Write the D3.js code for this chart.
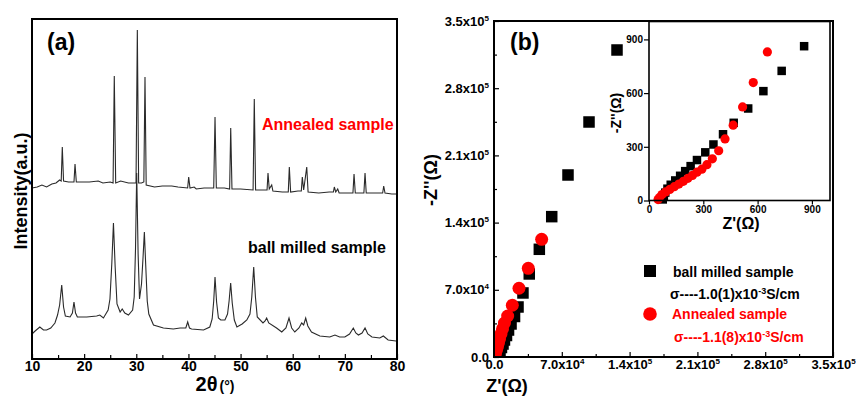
<!DOCTYPE html>
<html><head><meta charset="utf-8">
<script src="https://cdn.jsdelivr.net/npm/d3@7"></script>
<style>
html,body{margin:0;padding:0;background:#fff;}
svg{display:block;font-family:"Liberation Sans",Arial,sans-serif;font-weight:bold;}
</style></head>
<body>
<svg id="chart" width="856" height="400"></svg>
<script>
// ---------- DATA ----------
// (a) XRD patterns: [2theta (deg), intensity (a.u.)]
const xrdAnnealed = [
[10.0,171],[11.0,172],[11.9,174],[12.8,172],[13.8,175],[14.6,176],[15.3,179],[15.6,178],[15.81,212],[16.05,178],
[17.0,177],[18.05,177],[18.25,195],[18.5,177],[19.5,177],[21.0,177],[22.7,178],[23.6,176],[25.0,177],[25.55,176],
[25.78,283],[26.05,176],[27.0,178],[28.5,176],[29.95,176],[30.2,329],[30.45,176],[31.0,176],[31.45,177],[31.67,282],
[31.9,174],[33.5,172],[35.0,173],[36.8,173],[38.0,172],[39.85,171],[40.05,182],[40.3,171],[41.1,172],[41.5,170],
[43.0,171],[44.85,171],[45.1,242],[45.35,171],[46.9,171],[47.9,170],[48.11,231],[48.35,170],[50.0,170],[52.4,169],
[52.63,260],[52.88,169],[54.0,169],[55.08,169],[55.26,186],[55.5,170],[55.97,174],[56.2,168],[58.0,167],[59.15,167],
[59.35,192],[59.6,167],[61.0,168],[61.65,168],[61.84,182],[62.1,169],[62.69,192],[62.95,167],[65.0,166],[67.0,167],
[67.8,167],[67.98,172],[68.25,167],[68.63,170],[68.9,166],[70.5,166],[71.55,166],[71.76,185],[72.0,166],[73.0,166],
[73.65,166],[73.87,186],[74.1,166],[76.0,166],[77.25,166],[77.45,173],[77.7,166],[79.0,165],[80.0,165]
];
const xrdBallMilled = [
[10.0,25],[10.6,28],[11.5,32],[12.2,29],[12.8,29],[13.6,31],[14.4,36],[14.9,44],[15.3,54],[15.7,74],
[16.05,52],[16.4,43],[17.3,42],[17.75,46],[18.05,57],[18.35,46],[18.7,42],[20.5,42],[22.4,43],[23.0,44],
[23.7,41],[24.6,49],[24.95,60],[25.3,95],[25.62,136],[25.95,92],[26.3,55],[26.9,47],[27.3,50],[27.8,46],
[28.5,44],[29.3,49],[29.6,62],[29.85,110],[30.08,186],[30.35,105],[30.62,60],[31.0,75],[31.3,102],[31.55,127],
[31.8,95],[32.1,58],[32.4,45],[33.3,34],[35.2,31],[37.1,30],[38.4,31],[39.5,31],[39.86,37],[40.2,31],
[40.6,30],[42.9,29],[44.1,32],[44.55,40],[44.85,58],[45.1,82],[45.4,57],[45.75,41],[46.2,39],[47.0,39],
[47.5,45],[47.8,58],[48.1,76],[48.4,56],[48.8,39],[49.3,32],[50.3,35],[51.2,39],[51.8,45],[52.15,62],
[52.52,92],[52.85,62],[53.2,42],[54.3,36],[54.7,38],[55.0,41],[55.4,36],[56.9,31],[57.9,27],[58.7,31],
[59.29,41],[59.8,31],[60.4,27],[61.2,31],[61.72,36],[62.1,34],[62.49,41],[62.9,33],[63.6,27],[65.2,23],
[67.1,22],[68.1,24],[69.0,22],[70.0,22],[70.9,25],[71.62,31],[72.1,26],[72.6,24],[73.3,26],[73.87,31],
[74.4,25],[75.2,22],[76.7,21],[77.38,23],[78.3,19],[79.8,18],[80.0,18]
];
const xrdTicks = [10,15,20,25,30,35,40,45,50,55,60,65,70,75,80];

// (b) impedance, main plot: [Z' (ohm), -Z'' (ohm)]
const eisBallMilled = [
[127000,319800],[98100,244800],[76400,189600],[59600,146200],[46800,112200],[36400,86500],[29900,66700],
[24800,52100],[21200,42200],[17600,34400],[15000,28100],[12900,22400],[10800,17700],[9300,13500],
[7700,9900],[6200,6800],[5200,4200],[4100,2100],[3600,500]
];
const eisAnnealed = [
[49200,122600],[35400,92400],[25800,71600],[18900,53900],[14100,42700],[10800,35400],[8800,29200],
[7200,24000],[5700,18800],[4600,14600],[3600,10900],[2600,7300],[1500,4200],[1000,1600],[500,200]
];
const eisTicks = [0,35000,70000,105000,140000,175000,210000,245000,280000,315000,350000];

// (b) inset (low-impedance region)
const insetBallMilled = [
[857,862],[733,724],[632,611],[548,514],[468,434],[409,370],[356,313],[311,269],[265,226],
[230,192],[200,164],[172,138],[145,112],[120,88],[102,66],[90,44],[82,24],[76,6]
];
const insetAnnealed = [
[654,830],[576,659],[517,523],[465,421],[420,344],[385,278],[350,233],[320,200],[292,175],[265,158],
[240,140],[215,124],[190,107],[165,92],[140,77],[115,62],[92,48],[72,33],[57,16],[50,5]
];
const insetTicks = [0,300,600,900];

const legendLabels = ["ball milled sample","Annealed sample"];
const conductivity = ["σ----1.0(1)x10","σ----1.1(8)x10"];

// ---------- DRAW ----------
const svg = d3.select("#chart");
const RED = "#ff0000";

// ===== Panel (a) =====
const xA = d3.scaleLinear().domain([10,80]).range([32,397]);
const yA = d3.scaleLinear().domain([0,340]).range([359,19]);
const lineA = d3.line().x(d=>xA(d[0])).y(d=>yA(d[1]));

const gA = svg.append("g");
gA.append("path").datum(xrdBallMilled).attr("d",lineA)
  .attr("fill","none").attr("stroke","#2a2a2a").attr("stroke-width",1.1);
gA.append("path").datum(xrdAnnealed).attr("d",lineA)
  .attr("fill","none").attr("stroke","#2a2a2a").attr("stroke-width",1.1);

const axA = gA.append("g").attr("transform","translate(0,359)")
  .call(d3.axisBottom(xA).tickValues(xrdTicks).tickSizeInner(-5).tickSizeOuter(0).tickPadding(2)
        .tickFormat(d=> d%10===0 ? d : ""));
axA.select(".domain").remove();
axA.selectAll(".tick line").attr("stroke","#000").attr("stroke-width",1.2)
  .attr("y2", d=> d%10===0 ? -5 : -4);
axA.selectAll(".tick text").attr("font-size","14px").attr("font-weight","bold")
  .attr("font-family","Liberation Sans, Arial, sans-serif").attr("fill","#000");

gA.append("rect").attr("x",32).attr("y",19).attr("width",365).attr("height",340)
  .attr("fill","none").attr("stroke","#000").attr("stroke-width",2);

gA.append("text").attr("x",47).attr("y",50).attr("font-size","23px").text("(a)");
gA.append("text").attr("x",262).attr("y",130).attr("font-size","16px").attr("fill",RED).text("Annealed sample");
gA.append("text").attr("x",248).attr("y",253).attr("font-size","16px").text("ball milled sample");
gA.append("text").attr("transform","translate(27,191) rotate(-90)").attr("text-anchor","middle")
  .attr("font-size","18px").text("Intensity(a.u.)");
const xlabA = gA.append("text").attr("x",215).attr("y",391).attr("text-anchor","middle");
xlabA.append("tspan").attr("font-size","20px").text("2θ");
xlabA.append("tspan").attr("font-size","14px").attr("dx","2").text("(°)");

// ===== Panel (b) =====
const xB = d3.scaleLinear().domain([0,350000]).range([494,833]);
const yB = d3.scaleLinear().domain([0,350000]).range([357,21]);
const isMajor = d => d % 70000 === 0;

function sciLabel(sel, v){
  if (v === 0){ sel.text("0.0"); return; }
  const e = Math.floor(Math.log10(v)+1e-9);
  const m = v/Math.pow(10,e);
  sel.text(null);
  sel.append("tspan").text(m.toFixed(1)+"x10");
  sel.append("tspan").attr("dy","-5").attr("font-size","8px").text(e);
}

const gB = svg.append("g");
const axBx = gB.append("g").attr("transform","translate(0,357)")
  .call(d3.axisBottom(xB).tickValues(eisTicks).tickSizeInner(-5).tickSizeOuter(0).tickPadding(3).tickFormat(""));
axBx.select(".domain").remove();
axBx.selectAll(".tick line").attr("stroke","#000").attr("stroke-width",1.2).attr("y2",d=>isMajor(d)?-5:-3);
axBx.selectAll(".tick text").attr("font-size","13px").attr("font-weight","bold").attr("fill","#000")
  .attr("font-family","Liberation Sans, Arial, sans-serif")
  .each(function(d){ if(isMajor(d)) sciLabel(d3.select(this), d); });

const axBy = gB.append("g").attr("transform","translate(494,0)")
  .call(d3.axisLeft(yB).tickValues(eisTicks).tickSizeInner(-5).tickSizeOuter(0).tickPadding(5).tickFormat(""));
axBy.select(".domain").remove();
axBy.selectAll(".tick line").attr("stroke","#000").attr("stroke-width",1.2).attr("x2",d=>isMajor(d)?5:3);
axBy.selectAll(".tick text").attr("font-size","13px").attr("font-weight","bold").attr("fill","#000")
  .attr("font-family","Liberation Sans, Arial, sans-serif")
  .each(function(d){ if(isMajor(d)) sciLabel(d3.select(this), d); });

svg.append("defs").append("clipPath").attr("id","clipB")
  .append("rect").attr("x",494).attr("y",21).attr("width",339).attr("height",336);

const gPts = gB.append("g").attr("clip-path","url(#clipB)");
const sqMain = 11.5;
gPts.selectAll("rect.bm").data(eisBallMilled).join("rect")
  .attr("x",d=>xB(d[0])-sqMain/2).attr("y",d=>yB(d[1])-sqMain/2)
  .attr("width",sqMain).attr("height",sqMain).attr("fill","#000");
gPts.selectAll("circle.an").data(eisAnnealed).join("circle")
  .attr("cx",d=>xB(d[0])).attr("cy",d=>yB(d[1])).attr("r",6.5).attr("fill",RED);

gB.append("rect").attr("x",494).attr("y",21).attr("width",339).attr("height",336)
  .attr("fill","none").attr("stroke","#000").attr("stroke-width",2);

gB.append("text").attr("x",510).attr("y",50).attr("font-size","23px").text("(b)");
gB.append("text").attr("transform","translate(437,180) rotate(-90)").attr("text-anchor","middle")
  .attr("font-size","18px").text("-Z''(Ω)");
gB.append("text").attr("x",507).attr("y",392).attr("text-anchor","middle")
  .attr("font-size","18px").text("Z'(Ω)");

// ----- inset -----
const xI = d3.scaleLinear().domain([0,1000]).range([649,830]);
const yI = d3.scaleLinear().domain([0,1000]).range([200.5,21.5]);
const gI = svg.append("g");
const axIx = gI.append("g").attr("transform","translate(0,200.5)")
  .call(d3.axisBottom(xI).tickValues(insetTicks).tickSizeInner(4).tickSizeOuter(0).tickPadding(1));
axIx.select(".domain").remove();
const axIy = gI.append("g").attr("transform","translate(649,0)")
  .call(d3.axisLeft(yI).tickValues(insetTicks).tickSizeInner(5).tickSizeOuter(0).tickPadding(1));
axIy.select(".domain").remove();
gI.selectAll(".tick line").attr("stroke","#000").attr("stroke-width",1.2);
gI.selectAll(".tick text").attr("font-size","10px").attr("font-weight","bold").attr("fill","#000")
  .attr("font-family","Liberation Sans, Arial, sans-serif");

const sqIn = 8.5;
gI.selectAll("rect.ibm").data(insetBallMilled).join("rect")
  .attr("x",d=>xI(d[0])-sqIn/2).attr("y",d=>yI(d[1])-sqIn/2)
  .attr("width",sqIn).attr("height",sqIn).attr("fill","#000");
gI.selectAll("circle.ian").data(insetAnnealed).join("circle")
  .attr("cx",d=>xI(d[0])).attr("cy",d=>yI(d[1])).attr("r",4.6).attr("fill",RED);

gI.append("rect").attr("x",649).attr("y",21.5).attr("width",181).attr("height",179)
  .attr("fill","none").attr("stroke","#000").attr("stroke-width",1.6);
gI.append("text").attr("transform","translate(621,113) rotate(-90)").attr("text-anchor","middle")
  .attr("font-size","14px").text("-Z''(Ω)");
gI.append("text").attr("x",741).attr("y",229).attr("text-anchor","middle")
  .attr("font-size","16px").text("Z'(Ω)");

// ----- legend -----
const gL = svg.append("g").attr("font-size","14px");
gL.append("rect").attr("x",644).attr("y",265).attr("width",12).attr("height",12).attr("fill","#000");
gL.append("text").attr("x",673).attr("y",277).text(legendLabels[0]);
const s1 = gL.append("text").attr("x",670).attr("y",299);
s1.append("tspan").text(conductivity[0]);
s1.append("tspan").attr("dy","-5").attr("font-size","9px").text("-3");
s1.append("tspan").attr("dy","5").text("S/cm");
gL.append("circle").attr("cx",650).attr("cy",314).attr("r",6.8).attr("fill",RED);
gL.append("text").attr("x",672).attr("y",319).attr("fill",RED).text(legendLabels[1]);
const s2 = gL.append("text").attr("x",674).attr("y",342).attr("fill",RED);
s2.append("tspan").text(conductivity[1]);
s2.append("tspan").attr("dy","-5").attr("font-size","9px").text("-3");
s2.append("tspan").attr("dy","5").text("S/cm");
</script>
</body></html>
